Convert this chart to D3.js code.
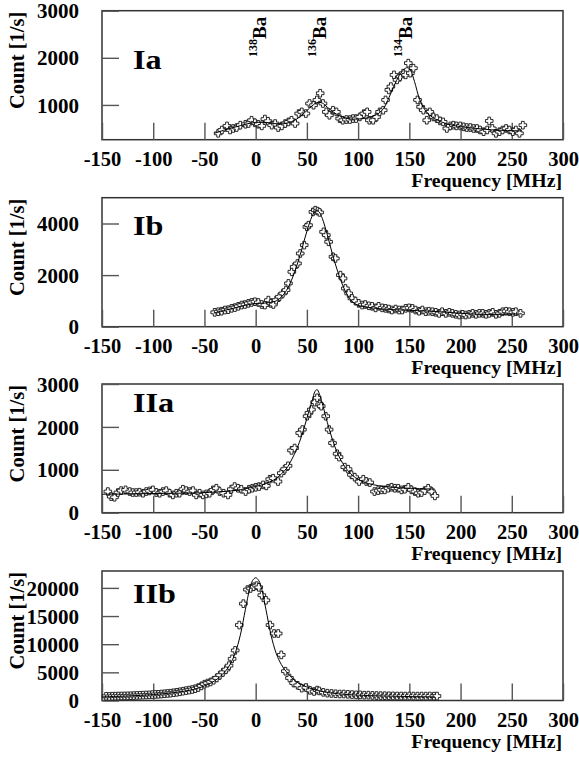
<!DOCTYPE html>
<html><head><meta charset="utf-8">
<script src="https://cdn.jsdelivr.net/npm/d3@7"></script>
<style>
html,body{margin:0;padding:0;background:#fff;}
text{font-family:"Liberation Serif","Times New Roman",serif;font-weight:bold;fill:#000;}
</style></head>
<body>
<svg id="chart" width="579" height="757"></svg>
<script>
// ---------- data ----------
const xTicks = [-150,-100,-50,0,50,100,150,200,250,300];
const panelNames = ["Ia","Ib","IIa","IIb"];
const yTicksIa = [1000,2000,3000];
const yTicksIb = [0,2000,4000];
const yTicksIIa = [0,1000,2000,3000];
const yTicksIIb = [0,5000,10000,15000,20000];
const isotopeMass = ["138","136","134"];
const isotopeFreq = [0,58,142];

const IaFreq = [-36.6,-33,-28,-25,-22,-18.6,-15,-10,-7,-4,-0.7,2.6,6,9,12,15.7,19,22,25.5,28.8,32,35,38.5,42,45,49,52.6,56.5,59.8,63,65.7,69,72,75.5,78.8,82,85,88.6,92,95,98,101.6,105.6,108.8,111,114.7,118,121,124.5,126.8,130,132,135,138,141,144,146.4,149,151,154,158,161,163.7,167,170,173.5,176.8,180,183,186.6,190,193,196,199.7,203,206,209.5,212.7,216,219,222.5,226,228,231,234.6,238,241,244.4,247.7,251,254,257.5,260.8];
const IaCount = [397,468,555,468,500,520,570,590,605,675,620,590,555,700,655,570,605,520,555,605,640,675,605,817,852,817,1030,994,1106,1248,1030,852,781,888,852,710,675,690,690,710,710,745,817,852,675,675,745,852,888,1106,1319,1390,1638,1532,1603,1674,1638,1887,1674,1780,1106,959,888,675,852,745,710,660,640,500,555,570,555,555,535,520,520,500,500,468,432,468,660,500,397,432,468,500,468,432,468,397,570];
const IaFitFreq = [-40,-30,-20,-10,0,10,20,30,40,50,55,60,65,70,80,90,100,110,120,125,130,135,140,145,148,151,155,160,165,170,180,190,200,220,240,260];
const IaFitCount = [400,470,530,590,630,630,600,610,700,880,980,1050,1040,950,790,710,700,730,820,930,1150,1400,1620,1760,1790,1740,1500,1120,900,780,650,580,540,490,460,450];

const IbFreq = [-40,-36.6,-33.3,-30,-26.8,-23.5,-20.3,-17,-13.7,-10.5,-7.2,-4,-0.7,2.6,5.9,9,12.4,14.7,17.3,20,23.2,26.5,29.7,32,35.3,37.6,40.8,43.5,47.4,50,51.6,55.9,58.2,60.5,62.4,66.3,69,71.2,75.5,77.8,82.7,85.3,87.6,90.8,94,97.4,100.6,104,107,110.5,113.7,117,120,123.5,126.8,130,133,136.6,140,143,146.4,149.7,153,156,159.5,162.7,166,169,172.5,175.8,179,182,185.6,189,192,195.4,198.7,202,205,208.5,211.8,215,218.3,221.6,224.8,228,231.4,234.6,238,241,244.4,247.7,251,254,258.5];
const IbCount = [557,580,600,646,660,711,740,790,839,860,904,940,968,940,860,839,1030,904,860,1030,1160,1290,1420,1678,2128,2320,2450,2838,3161,3870,3935,4450,4515,4480,4430,3677,3548,3290,2710,2645,2000,1871,1484,1290,1097,994,904,839,860,810,790,730,790,730,711,685,646,685,646,646,711,730,711,646,600,646,580,600,580,557,517,580,517,557,517,480,453,480,453,480,517,480,517,517,480,517,557,480,517,580,600,580,557,580,517];
const IbFitFreq = [-40,-30,-20,-10,0,10,20,25,30,35,40,45,50,55,58,60,62,65,70,75,80,85,90,95,100,110,120,140,160,180,200,220,240,260];
const IbFitCount = [540,640,730,830,900,920,1000,1150,1400,1800,2350,3000,3700,4280,4480,4500,4450,4200,3550,2800,2150,1600,1200,950,830,750,700,650,620,580,520,480,480,500];

const IIaFreq = [-144.3,-141,-137.8,-134.5,-131.3,-127,-123,-120,-116.6,-113.4,-110,-106.8,-103.6,-100.3,-97,-93.8,-90.6,-87.3,-84,-80.8,-77.5,-74.3,-71,-67.8,-64.5,-61.2,-58,-54.7,-51.5,-48.2,-45,-41.7,-38.4,-35.2,-31.3,-27,-23.8,-20.5,-17.3,-14,-9.8,-6.5,-3.3,0,3.3,7.2,10.4,13.7,17,21.8,25,28.3,31.6,35,38,43,45.6,50.2,52,54.4,57.6,60,62.5,64,68.4,71.7,75,79.5,81.4,87,90.2,93.5,96.7,101,105,108,111.4,116,119.5,122.8,126,129.3,132.6,135.8,139,142.3,145.6,149,152,155.4,158.6,161.9,165,168.4,171.7,175];
const IIaCount = [493,375,360,470,515,532,493,470,470,478,454,493,508,532,470,454,493,515,454,415,454,454,547,515,493,515,415,454,415,438,454,532,570,493,454,415,547,609,570,547,493,547,570,593,609,648,625,780,804,726,922,1015,1093,1452,1507,1859,1937,2249,2327,2405,2577,2679,2523,2483,2249,1937,1624,1374,1296,1062,1015,883,828,726,780,726,703,493,515,532,532,570,593,570,570,532,547,593,532,493,454,470,515,570,493,391];
const IIaFitFreq = [-150,-120,-90,-60,-40,-20,-10,0,10,20,30,35,40,45,50,55,58,60,62,65,70,75,80,85,90,95,100,110,120,130,140,150,160,175];
const IIaFitCount = [430,440,450,460,480,520,560,610,680,800,1030,1230,1480,1800,2200,2600,2830,2870,2780,2550,2100,1700,1380,1150,980,860,780,680,630,600,580,570,560,550];

const IIbFreq = [-146,-143,-140,-137,-134,-131,-128,-125,-122,-119,-116,-113,-110,-107,-104,-101,-98,-95,-92,-89,-86,-83,-80,-77,-74,-71,-68,-65,-62,-59,-56,-53,-50,-47,-44,-41,-38,-35,-32,-29,-26,-23,-20,-16,-12,-8,-5,-2,1,3,6,10,14,18,22,25,29,33,37,41,45,49,53,57,60,62,66,70,74,78,82,86,90,94,98,102,106,110,114,118,122,126,130,134,138,142,146,150,154,158,162,166,170,174,177];
const IIbCount = [750,720,760,780,790,800,820,830,850,870,900,920,950,980,1000,1050,1080,1100,1150,1200,1250,1300,1380,1450,1550,1650,1750,1850,1950,2100,2300,2600,2900,3100,3300,3600,4000,4500,5000,5500,6200,7400,8900,13400,17200,19700,19900,20200,20400,20100,18700,17800,13400,11900,11900,8100,5200,4000,3100,2700,2200,2300,1800,1600,1850,1700,1450,1300,1250,1200,1150,1150,1100,1050,1000,1000,950,950,900,880,870,850,840,820,800,800,790,800,790,780,790,780,800,780,790];
const IIbFitFreq = [-150,-125,-100,-80,-60,-50,-40,-30,-25,-20,-15,-10,-6,-3,0,3,6,10,15,20,25,30,40,50,60,75,100,125,150,175];
const IIbFitCount = [650,800,1050,1400,2000,2600,3500,5100,6400,8400,11600,16200,19700,21300,21800,21300,19700,16200,11600,8400,6400,5100,3300,2400,1800,1300,950,800,700,650];

// ---------- layout ----------
const svg = d3.select("#chart");
const X0 = 102, X1 = 563;
const panels = [
  {name:panelNames[0], top:10.7, bottom:139.7, dom:[262,3000], ticks:yTicksIa, f:IaFreq, c:IaCount, ff:IaFitFreq, fc:IaFitCount, lblBase:69},
  {name:panelNames[1], top:197.7, bottom:326.7, dom:[0,5000], ticks:yTicksIb, f:IbFreq, c:IbCount, ff:IbFitFreq, fc:IbFitCount, lblBase:235},
  {name:panelNames[2], top:384, bottom:512.7, dom:[0,3000], ticks:yTicksIIa, f:IIaFreq, c:IIaCount, ff:IIaFitFreq, fc:IIaFitCount, lblBase:411.5},
  {name:panelNames[3], top:571, bottom:700.5, dom:[0,23000], ticks:yTicksIIb, f:IIbFreq, c:IIbCount, ff:IIbFitFreq, fc:IIbFitCount, lblBase:602.5}
];

const x = d3.scaleLinear().domain([-150,300]).range([X0,X1]);
const w = 1.4, r = 3.8;
const crossPath = `M${-w},${-r}L${w},${-r}L${w},${-w}L${r},${-w}L${r},${w}L${w},${w}L${w},${r}L${-w},${r}L${-w},${w}L${-r},${w}L${-r},${-w}L${-w},${-w}Z`;
const plainFmt = d => String(d);

panels.forEach(p => {
  const y = d3.scaleLinear().domain(p.dom).range([p.bottom, p.top]);
  const g = svg.append("g");

  // frame
  g.append("rect").attr("x",X0).attr("y",p.top).attr("width",X1-X0).attr("height",p.bottom-p.top)
    .attr("fill","none").attr("stroke","#333").attr("stroke-width",1.5);

  // x axis
  const xa = g.append("g").attr("transform",`translate(0,${p.bottom})`)
    .call(d3.axisBottom(x).tickValues(xTicks).tickSize(-17).tickFormat(plainFmt));
  xa.select(".domain").remove();
  xa.selectAll(".tick line").attr("stroke","#555").attr("stroke-width",1.4);
  xa.selectAll(".tick text").attr("y",26.3).attr("dy",null)
    .style("font-size","20.5px").style("font-family","Liberation Serif").style("font-weight","bold").attr("fill","#000");

  // y axis
  const ya = g.append("g").attr("transform",`translate(${X0},0)`)
    .call(d3.axisLeft(y).tickValues(p.ticks).tickSize(-17).tickPadding(23).tickFormat(plainFmt));
  ya.select(".domain").remove();
  ya.selectAll(".tick line").attr("stroke","#555").attr("stroke-width",1.4);
  ya.selectAll(".tick text").attr("dy","0.34em")
    .style("font-size","21px").style("font-family","Liberation Serif").style("font-weight","bold").attr("fill","#000");

  // axis titles
  g.append("text").attr("x",562).attr("y",p.bottom+47.5).attr("text-anchor","end")
    .style("font-size","19.8px").text("Frequency [MHz]");
  g.append("text").attr("transform",`translate(24,${p.top+1}) rotate(-90)`).attr("text-anchor","end")
    .style("font-size","20.5px").text("Count [1/s]");

  // panel label
  g.append("text").attr("transform",`translate(133,${p.lblBase}) scale(1.15,1)`)
    .style("font-size","28px").text(p.name);

  // data markers
  const pts = p.f.map((fv,i)=>[fv,p.c[i]]);
  g.append("g").selectAll("path").data(pts).join("path")
    .attr("d",crossPath).attr("transform",d=>`translate(${x(d[0])},${y(d[1])})`)
    .attr("fill","#fff").attr("stroke","#111").attr("stroke-width",0.9);

  // fit curve
  const fit = p.ff.map((fv,i)=>[fv,p.fc[i]]);
  g.append("path").datum(fit)
    .attr("d",d3.line().x(d=>x(d[0])).y(d=>y(d[1])).curve(d3.curveCatmullRom.alpha(0.5)))
    .attr("fill","none").attr("stroke","#000").attr("stroke-width",1);

  // isotope labels in panel Ia
  if (p.name === "Ia") {
    isotopeFreq.forEach((fv,i)=>{
      const t = g.append("text").attr("transform",`translate(${x(fv)+7},57) rotate(-90)`)
        .attr("text-anchor","start").style("font-size","19px");
      t.append("tspan").attr("dy","-0.5em").style("font-size","12px").text(isotopeMass[i]);
      t.append("tspan").attr("dy","0.5em").text("Ba");
    });
  }
});
</script>
</body></html>
